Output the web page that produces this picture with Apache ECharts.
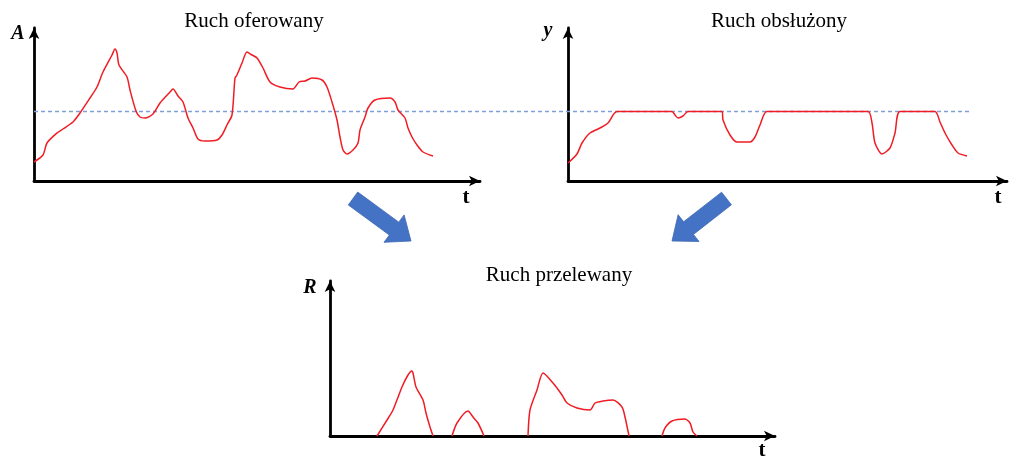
<!DOCTYPE html>
<html>
<head>
<meta charset="utf-8">
<script src="https://cdn.jsdelivr.net/npm/echarts@6/dist/echarts.min.js"></script>
<style>
  html, body { margin: 0; padding: 0; background: #fff; }
  #chart { width: 1015px; height: 459px; }
</style>
</head>
<body>
<div id="chart"></div>
<script>
// Offered traffic A(t): [t, A]
const offered = [
  [0,19],[9,26],[13,38],[23,48],[29,52],[39,59],[46,68],[56,83],[63,94],[69,109],
  [78,126],[81,132],[83,128],[85,116],[93,104],[96,91],[102,70],[106,64],[111,63],
  [119,67],[126,78],[136,89],[139,92],[144,85],[149,79],[154,63],[159,53],[164,42],
  [171,40],[183,41],[188,46],[193,56],[198,66],[201,103],[203,106],[208,118],[213,129],
  [218,126],[223,123],[229,113],[236,99],[246,94],[259,92],[265,99],[271,100],[278,103],
  [288,101],[293,94],[298,79],[303,61],[306,44],[309,31],[313,27],[319,31],[324,38],
  [326,51],[331,64],[334,73],[341,81],[356,83],[361,79],[364,71],[371,63],[374,53],
  [378,44],[383,36],[389,29],[399,25]
];

// Served traffic y(t): [t, y]
const served = [
  [0,18],[9,27],[14,38],[22,48],[32,53],[40,58],[49,69.5],[104,69.5],[107,66],[110,63],
  [115,65],[120,69.5],[154,69.5],[155,61],[162,46],[169,39],[182,39],[187,44],[192,56],
  [199,69.5],[300,69.5],[304,58],[307,38],[314,27],[322,33],[327,48],[332,69.5],
  [367,69.5],[372,59],[377,48],[384,36],[390,28],[399,25]
];

// Overflow traffic R(t): [t, R], '-' separates the bursts
const overflow = [
  [47,0],[57,16],[63,26],[72,49],[78,61],[82,65],[83,63],[86,49],[93,36],[96,23],[100,9],[103,0],
  [110,'-'],
  [122,0],[127,13],[138,25],[143,19],[148,13],[154,0],
  [170,'-'],
  [198,0],[200,26],[207,46],[213,63],[223,53],[232,41],[237,33],[247,28],[260,26],[265,33],
  [273,35],[283,36],[292,29],[295,19],[299,0],
  [320,'-'],
  [332,0],[335,8],[342,15],[355,17],[360,13],[363,4],[367,0]
];

// Line capacity (threshold level)
const capacity = 69.5;

// Panel titles and axis names
const titles = ['Ruch oferowany', 'Ruch obsłużony', 'Ruch przelewany'];
const yNames = ['A', 'y', 'R'];
const xName = 't';

const chart = echarts.init(document.getElementById('chart'), null, { renderer: 'canvas' });

const grids = [
  { left: 34, top: 28, width: 446, height: 153 },
  { left: 568, top: 28, width: 439, height: 153 },
  { left: 330, top: 281, width: 445, height: 155 },
  { left: 34, top: 28, width: 938, height: 153 }
];

const axisLine = {
  show: true,
  symbol: ['none', 'arrow'],
  symbolSize: [8, 11],
  lineStyle: { color: '#000', width: 2.8 }
};

function xAx(i, show) {
  return {
    type: 'value', gridIndex: i, min: 0, max: show ? grids[i].width : 1,
    show: show, axisLine: axisLine, axisTick: { show: false },
    axisLabel: { show: false }, splitLine: { show: false }
  };
}
function yAx(i, show) {
  return {
    type: 'value', gridIndex: i, min: 0, max: grids[i].height,
    show: show, axisLine: axisLine, axisTick: { show: false },
    axisLabel: { show: false }, splitLine: { show: false }
  };
}

const red = { color: '#f01c24', width: 1.5 };

function curve(i, data) {
  return {
    type: 'line', xAxisIndex: i, yAxisIndex: i, data: data,
    showSymbol: false, symbol: 'none', smooth: 0.25, connectNulls: false,
    lineStyle: red, itemStyle: { color: red.color }, silent: true, z: 3
  };
}

// Block arrow polygon from tail centre to tip
function blockArrow(tail, tip) {
  const dx = tip[0] - tail[0], dy = tip[1] - tail[1];
  const L = Math.hypot(dx, dy);
  const ux = dx / L, uy = dy / L, px = -uy, py = ux;
  const w = 8, H = 17, h = 21;
  const pt = (a, b) => [tail[0] + ux * a + px * b, tail[1] + uy * a + py * b];
  return {
    type: 'polygon',
    shape: { points: [pt(0, -w), pt(L - h, -w), pt(L - h, -H), pt(L, 0), pt(L - h, H), pt(L - h, w), pt(0, w)] },
    style: { fill: '#4472c4', stroke: '#3f68b4', lineWidth: 0.8 }
  };
}

function txt(text, x, y, font) {
  return {
    type: 'text', x: x, y: y,
    style: { text: text, font: font, fill: '#000', textAlign: 'center', textVerticalAlign: 'middle' }
  };
}

const serif = '"Liberation Serif", "Times New Roman", serif';

chart.setOption({
  animation: false,
  backgroundColor: '#fff',
  grid: grids.map(g => Object.assign({ containLabel: false }, g)),
  xAxis: [xAx(0, true), xAx(1, true), xAx(2, true), xAx(3, false)],
  yAxis: [yAx(0, true), yAx(1, true), yAx(2, true), yAx(3, false)],
  series: [
    {
      type: 'line', xAxisIndex: 3, yAxisIndex: 3,
      data: [[0, capacity], [1, capacity]],
      showSymbol: false, symbol: 'none', silent: true, z: 1,
      lineStyle: { color: '#7f9fd8', width: 1.6, type: [4, 3] }
    },
    curve(0, offered),
    curve(1, served),
    curve(2, overflow)
  ],
  graphic: [
    txt(titles[0], 254, 21, '21px ' + serif),
    txt(titles[1], 779, 21, '21px ' + serif),
    txt(titles[2], 559, 275, '21px ' + serif),
    txt(yNames[0], 18, 34, 'italic bold 20px ' + serif),
    txt(yNames[1], 548, 31, 'italic bold 20px ' + serif),
    txt(yNames[2], 310, 288, 'italic bold 20px ' + serif),
    txt(xName, 466, 198, 'bold 21px ' + serif),
    txt(xName, 998, 198, 'bold 21px ' + serif),
    txt(xName, 762, 451, 'bold 21px ' + serif),
    blockArrow([353, 198.5], [411, 241]),
    blockArrow([726.5, 198.5], [672, 241])
  ]
});
</script>
</body>
</html>
